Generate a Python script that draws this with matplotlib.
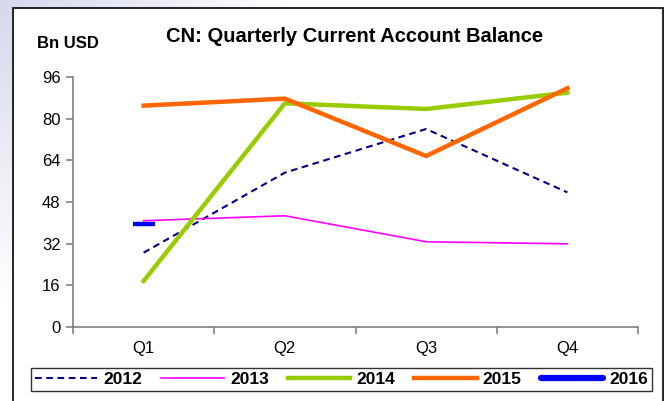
import numpy as np
import matplotlib
matplotlib.use("Agg")
import matplotlib.pyplot as plt
from matplotlib.lines import Line2D
from matplotlib.patches import Rectangle

plt.rcParams['font.family'] = ['Liberation Sans', 'DejaVu Sans']

quarters = ["Q1", "Q2", "Q3", "Q4"]
years = ["2012", "2013", "2014", "2015", "2016"]
v2012 = [28.5, 59.3, 76.1, 51.7]
v2013 = [40.8, 42.7, 32.7, 31.9]
v2014 = [17.6, 86.0, 83.8, 90.1]
v2015 = [85.1, 87.8, 65.7, 91.8]
v2016 = [39.5]
yticks = [0, 16, 32, 48, 64, 80, 96]

W, H = 669, 401
fig = plt.figure(figsize=(W / 100, H / 100), dpi=100)
fig.patch.set_facecolor("white")

# faint background tint at top-left
bg = fig.add_axes([0, 0, 1, 1], zorder=-5)
yy, xx = np.mgrid[0:1:200j, 0:1:300j]
d = np.clip(1 - np.sqrt((xx / 0.45) ** 2 + ((1 - yy) / 0.75) ** 2), 0, 1)
img = np.ones((200, 300, 3))
tint = np.array([0.84, 0.85, 0.93])
for c in range(3):
    img[..., c] = 1 - d * (1 - tint[c])
bg.imshow(img, extent=[0, 1, 0, 1], aspect="auto", origin="lower")
bg.axis("off")

# outer chart box
fig.patches.append(Rectangle((13 / W, -0.05), (663 - 13) / W, 1 - 8 / H + 0.05,
                             transform=fig.transFigure, facecolor="white",
                             edgecolor="black", linewidth=1.2, zorder=-4))

ax = fig.add_axes([73 / W, 1 - 326.7 / H, (638 - 73) / W, (326.7 - 77.3) / H])
ax.set_facecolor("none")
x = np.arange(len(quarters))

l12, = ax.plot(x, v2012, color="#000080", lw=1.5, ls=(0, (3.2, 2.2)))
l13, = ax.plot(x, v2013, color="#FF00FF", lw=1.2)
l14, = ax.plot(x, v2014, color="#99CC00", lw=3.2)
l15, = ax.plot(x, v2015, color="#FF6600", lw=3.2)
ax.plot(x[:len(v2016)], v2016, color="#0000FF", lw=3, marker="_",
        markersize=16, markeredgewidth=3.2, linestyle="none")

ax.set_xlim(-0.5, 3.5)
ax.set_ylim(0, 96)
ax.set_yticks(yticks)
ax.set_yticklabels([str(t) for t in yticks], fontsize=12)
ax.set_xticks(x)
ax.set_xticklabels(quarters, fontsize=12)
ax.set_xticks(np.arange(-0.5, 4, 1), minor=True)
ax.tick_params(axis="x", which="major", length=0, pad=10)
ax.tick_params(axis="x", which="minor", length=5, color="#808080", width=1.2)
ax.tick_params(axis="y", length=5, color="#808080", width=1.2, pad=4)
for s in ["top", "right"]:
    ax.spines[s].set_visible(False)
for s in ["left", "bottom"]:
    ax.spines[s].set_color("#808080")
    ax.spines[s].set_linewidth(1.2)

fig.text(355 / W, 1 - 36 / H, "CN: Quarterly Current Account Balance",
         ha="center", va="center", fontsize=14.5, fontweight="bold")
fig.text(37 / W, 1 - 44 / H, "Bn USD", ha="left", va="center",
         fontsize=12, fontweight="bold")

h16 = Line2D([], [], color="#0000FF", lw=4.5, solid_capstyle="round")
leg = fig.legend([l12, l13, l14, l15, h16], years, ncol=5, loc="center",
                 bbox_to_anchor=(341.5 / W, 1 - 379.5 / H), frameon=True,
                 fancybox=False, edgecolor="black",
                 prop={"weight": "bold", "size": 12.5}, handlelength=3.6,
                 columnspacing=1.1, handletextpad=0.35, borderpad=0.2,
                 borderaxespad=0)
leg.get_frame().set_linewidth(1.0)

fig.savefig("out.png", dpi=100)
